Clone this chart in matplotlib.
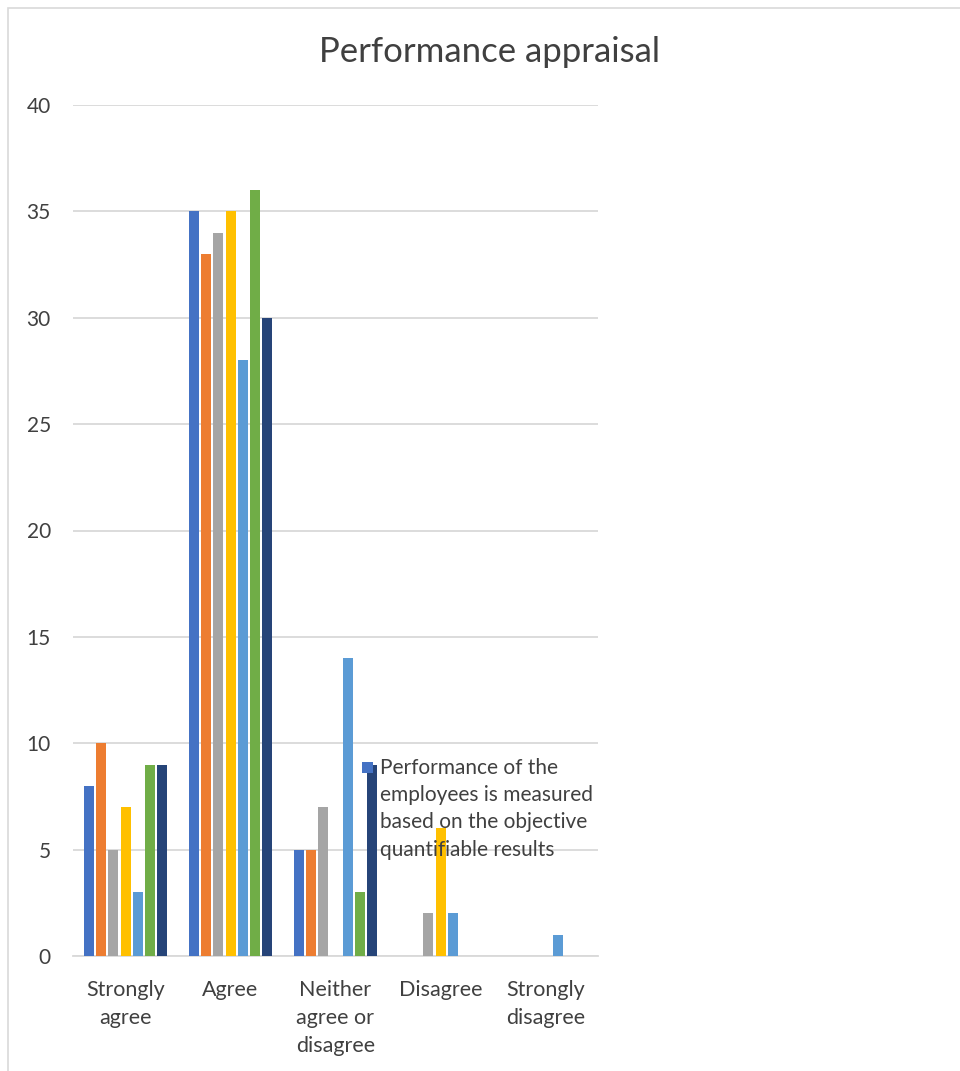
import numpy as np
import matplotlib.pyplot as plt
from matplotlib.patches import Rectangle

plt.rcParams['font.family'] = ['Lato', 'DejaVu Sans']

categories = ["Strongly\nagree", "Agree", "Neither\nagree or\ndisagree", "Disagree", "Strongly\ndisagree"]
series_values = [
    [8, 35, 5, 0, 0],
    [10, 33, 5, 0, 0],
    [5, 34, 7, 2, 0],
    [7, 35, 0, 6, 0],
    [3, 28, 14, 2, 1],
    [9, 36, 3, 0, 0],
    [9, 30, 9, 0, 0],
]
series_colors = ["#4472C4", "#ED7D31", "#A5A5A5", "#FFC000", "#5B9BD5", "#70AD47", "#264478"]
legend_label = "Performance of the\nemployees is measured\nbased on the objective\nquantifiable results"
y_ticks = [0, 5, 10, 15, 20, 25, 30, 35, 40]

W, H = 960, 1071
TEXT = "#404040"
fig = plt.figure(figsize=(W / 100, H / 100), dpi=100)

# outer chart border
fig.add_artist(Rectangle((8 / W, -0.01), 1.0, 1 - 8 / H + 0.01, transform=fig.transFigure,
                         fill=False, edgecolor="#D9D9D9", linewidth=1.2))

ax = fig.add_axes([73 / W, (H - 956) / H, (598 - 73) / W, (956 - 105) / H])

x = np.arange(len(categories))
pitch = 12.3 / 105
bar_w = 10.0 / 105
n = len(series_values)
for i, (vals, col) in enumerate(zip(series_values, series_colors)):
    ax.bar(x + (i - (n - 1) / 2) * pitch, vals, width=bar_w, color=col, zorder=3)

ax.set_xlim(-0.5, len(categories) - 0.5)
ax.set_ylim(0, 40)
ax.set_yticks(y_ticks)
ax.set_xticks(x)
ax.set_xticklabels(categories, linespacing=1.5, fontsize=15.5)
ax.tick_params(axis='both', length=0, labelsize=15, colors=TEXT)
ax.tick_params(axis='x', labelsize=15.5, pad=17)
ax.tick_params(axis='y', pad=16)
ax.grid(axis='y', color="#D9D9D9", linewidth=1.3, zorder=0)
for s in ["top", "right", "left"]:
    ax.spines[s].set_visible(False)
ax.spines["bottom"].set_color("#D9D9D9")
ax.spines["bottom"].set_linewidth(1.3)

fig.text(490 / W, 1 - 52 / H, "Performance appraisal", ha="center", va="center",
         fontsize=25, color=TEXT)

# legend: only the first series entry is shown
fig.add_artist(Rectangle((362 / W, 1 - 773 / H), 11 / W, 11 / H, transform=fig.transFigure,
                         facecolor=series_colors[0], edgecolor="none", zorder=5))
fig.text(380 / W, 1 - 758 / H, legend_label, ha="left", va="top", fontsize=15,
         color=TEXT, linespacing=1.45, zorder=5)

fig.savefig("out.png", dpi=100, facecolor="white")
